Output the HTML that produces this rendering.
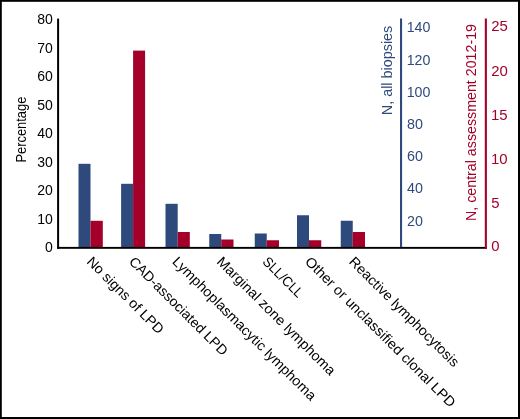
<!DOCTYPE html>
<html><head><meta charset="utf-8"><title>Chart</title>
<style>html,body{margin:0;padding:0;background:#fff;}svg{display:block;}svg{will-change:transform;filter:opacity(1);}text{font-family:"Liberation Sans",sans-serif;font-size:14px;}</style></head><body>
<svg width="520" height="419" viewBox="0 0 520 419">
<rect x="0" y="0" width="520" height="419" fill="#000"/>
<rect x="1.8" y="1.8" width="516.2" height="415.2" fill="#fff"/>
<rect x="78.5" y="163.8" width="12.00" height="83.70" fill="#2e4a7d"/>
<rect x="90.5" y="220.8" width="12.30" height="26.70" fill="#a50029"/>
<rect x="121.1" y="183.8" width="12.00" height="63.70" fill="#2e4a7d"/>
<rect x="133.1" y="50.6" width="12.00" height="196.90" fill="#a50029"/>
<rect x="165.5" y="203.8" width="12.20" height="43.70" fill="#2e4a7d"/>
<rect x="177.7" y="232.0" width="12.10" height="15.50" fill="#a50029"/>
<rect x="209.25" y="234.0" width="12.00" height="13.50" fill="#2e4a7d"/>
<rect x="221.25" y="239.5" width="12.25" height="8.00" fill="#a50029"/>
<rect x="254.75" y="233.5" width="12.00" height="14.00" fill="#2e4a7d"/>
<rect x="266.75" y="240.25" width="12.25" height="7.25" fill="#a50029"/>
<rect x="297.0" y="215.25" width="12.00" height="32.25" fill="#2e4a7d"/>
<rect x="309.0" y="240.25" width="12.25" height="7.25" fill="#a50029"/>
<rect x="340.75" y="220.75" width="12.00" height="26.75" fill="#2e4a7d"/>
<rect x="352.75" y="232.0" width="12.25" height="15.50" fill="#a50029"/>
<rect x="57.1" y="18.6" width="2" height="230.2" fill="#000000"/>
<rect x="57.1" y="246.9" width="429.8" height="1.9" fill="#000000"/>
<rect x="400" y="18.5" width="2.1" height="228.6" fill="#2e4a7d"/>
<rect x="484.8" y="18.5" width="2.1" height="230.3" fill="#a50029"/>
<text x="52.8" y="252.20" text-anchor="end" fill="#000000">0</text>
<text x="52.8" y="223.68" text-anchor="end" fill="#000000">10</text>
<text x="52.8" y="195.16" text-anchor="end" fill="#000000">20</text>
<text x="52.8" y="166.64" text-anchor="end" fill="#000000">30</text>
<text x="52.8" y="138.12" text-anchor="end" fill="#000000">40</text>
<text x="52.8" y="109.60" text-anchor="end" fill="#000000">50</text>
<text x="52.8" y="81.08" text-anchor="end" fill="#000000">60</text>
<text x="52.8" y="52.56" text-anchor="end" fill="#000000">70</text>
<text x="52.8" y="24.04" text-anchor="end" fill="#000000">80</text>
<text x="406.7" y="32.40" fill="#2e4a7d" style="font-size:14.7px" textLength="23.7" lengthAdjust="spacingAndGlyphs">140</text>
<text x="406.7" y="64.60" fill="#2e4a7d" style="font-size:14.7px" textLength="23.7" lengthAdjust="spacingAndGlyphs">120</text>
<text x="406.7" y="96.50" fill="#2e4a7d" style="font-size:14.7px" textLength="23.7" lengthAdjust="spacingAndGlyphs">100</text>
<text x="407.1" y="128.70" fill="#2e4a7d" style="font-size:14.7px" textLength="15.9" lengthAdjust="spacingAndGlyphs">80</text>
<text x="407.1" y="161.00" fill="#2e4a7d" style="font-size:14.7px" textLength="15.9" lengthAdjust="spacingAndGlyphs">60</text>
<text x="407.1" y="193.40" fill="#2e4a7d" style="font-size:14.7px" textLength="15.9" lengthAdjust="spacingAndGlyphs">40</text>
<text x="407.1" y="225.50" fill="#2e4a7d" style="font-size:14.7px" textLength="15.9" lengthAdjust="spacingAndGlyphs">20</text>
<text x="491.3" y="31.40" fill="#a50029" style="font-size:14.4px" textLength="16.6" lengthAdjust="spacingAndGlyphs">25</text>
<text x="491.3" y="75.60" fill="#a50029" style="font-size:14.4px" textLength="16.6" lengthAdjust="spacingAndGlyphs">20</text>
<text x="491.0" y="119.50" fill="#a50029" style="font-size:14.4px" textLength="16.6" lengthAdjust="spacingAndGlyphs">15</text>
<text x="491.0" y="163.70" fill="#a50029" style="font-size:14.4px" textLength="16.6" lengthAdjust="spacingAndGlyphs">10</text>
<text x="491.3" y="207.80" fill="#a50029" style="font-size:14.4px" textLength="8.3" lengthAdjust="spacingAndGlyphs">5</text>
<text x="491.3" y="251.30" fill="#a50029" style="font-size:14.4px" textLength="8.3" lengthAdjust="spacingAndGlyphs">0</text>
<text transform="translate(25.5,162.5) rotate(-90)" fill="#000000" style="font-size:14.7px" textLength="65.8" lengthAdjust="spacingAndGlyphs">Percentage</text>
<text transform="translate(392.2,115.2) rotate(-90)" fill="#2e4a7d" textLength="89.5" lengthAdjust="spacingAndGlyphs">N, all biopsies</text>
<text transform="translate(476.4,221) rotate(-90)" fill="#a50029" textLength="197" lengthAdjust="spacingAndGlyphs">N, central assessment 2012-19</text>
<text transform="translate(86.0,262.4) rotate(45)" fill="#000000" textLength="102.2" lengthAdjust="spacingAndGlyphs">No signs of LPD</text>
<text transform="translate(128.2,262.4) rotate(45)" fill="#000000" textLength="132.9" lengthAdjust="spacingAndGlyphs">CAD-associated LPD</text>
<text transform="translate(171.6,262.4) rotate(45)" fill="#000000" textLength="196.6" lengthAdjust="spacingAndGlyphs">Lymphoplasmacytic lymphoma</text>
<text transform="translate(216.1,262.4) rotate(45)" fill="#000000" textLength="161.0" lengthAdjust="spacingAndGlyphs">Marginal zone lymphoma</text>
<text transform="translate(261.7,262.4) rotate(45)" fill="#000000" textLength="51.0" lengthAdjust="spacingAndGlyphs">SLL/CLL</text>
<text transform="translate(304.2,262.4) rotate(45)" fill="#000000" textLength="206.0" lengthAdjust="spacingAndGlyphs">Other or unclassified clonal LPD</text>
<text transform="translate(348.3,262.4) rotate(45)" fill="#000000" textLength="149.0" lengthAdjust="spacingAndGlyphs">Reactive lymphocytosis</text>
</svg></body></html>
